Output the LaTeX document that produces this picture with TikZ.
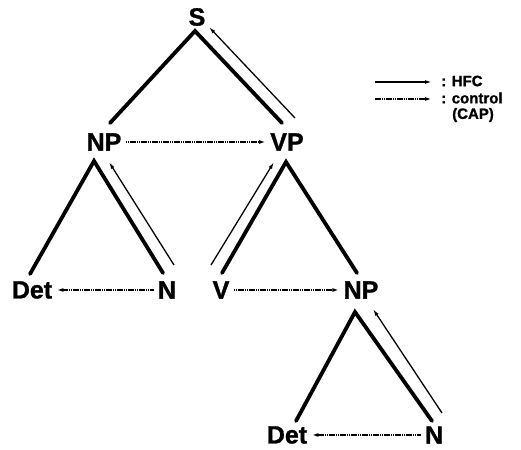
\documentclass[tikz,border=0pt]{standalone}
\usepackage{fontspec}
\setmainfont{Liberation Sans}
\newfontfamily\heavyfont{Liberation Sans Bold}[FakeBold=1.2]
\usetikzlibrary{arrows.meta}
\begin{document}
\begin{tikzpicture}[x=1pt,y=-1pt,
  lbl/.style={font=\heavyfont\fontsize{25}{25}\selectfont, inner sep=0pt},
  leg/.style={font=\heavyfont\fontsize{15}{15}\selectfont, inner sep=0pt, anchor=west},
  tree/.style={line width=3.8pt, line cap=round},
  hfc/.style={line width=1.3pt,-{Latex[length=7pt,width=3.8pt]}},
  ctrl/.style={line width=1.4pt, dash pattern=on 1.6pt off 0.6pt,-{Latex[length=7pt,width=3.8pt]}, shorten <=4pt, shorten >=4pt},
]
\useasboundingbox (0,0) rectangle (521,449);
% labels
\node[lbl] (S)    at (197,17)  {S};
\node[lbl] (NPa)  at (104,142) {NP};
\node[lbl] (VP)   at (287,142) {VP};
\node[lbl] (Deta) at (32,290)  {Det};
\node[lbl] (Na)   at (167,290) {N};
\node[lbl] (V)    at (221,290) {V};
\node[lbl] (NPb)  at (361,290) {NP};
\node[lbl] (Detb) at (287,435) {Det};
\node[lbl] (Nb)   at (434,435) {N};
% attachment points
\coordinate (S-b)   at (195,31);
\coordinate (NPa-t) at (110,123);
\coordinate (VP-t)  at (282,123);
\coordinate (NPa-b) at (94,161);
\coordinate (Deta-t) at (30,274);
\coordinate (Na-t)  at (163,273);
\coordinate (VP-b)  at (286,162);
\coordinate (V-t)   at (222,273);
\coordinate (NPb-t) at (357,273);
\coordinate (NPb-b) at (355,312);
\coordinate (Detb-t) at (296,421);
\coordinate (Nb-t)  at (432,421);
% HFC arrow ends
\coordinate (VP-h)  at (295,118);
\coordinate (S-h)   at (209,27);
\coordinate (Na-h)  at (174,265);
\coordinate (NPa-h) at (109,162);
\coordinate (V-h)   at (211,265);
\coordinate (VP-h2) at (274,162);
\coordinate (Nb-h)  at (442,413);
\coordinate (NPb-h) at (373,309);
% tree lines
\draw[tree] (NPa-t) -- (S-b) -- (VP-t);
\draw[tree] (Deta-t) -- (NPa-b) -- (Na-t);
\draw[tree] (V-t) -- (VP-b) -- (NPb-t);
\draw[tree] (Detb-t) -- (NPb-b) -- (Nb-t);
% HFC arrows
\draw[hfc] (VP-h) -- (S-h);
\draw[hfc] (Na-h) -- (NPa-h);
\draw[hfc] (V-h) -- (VP-h2);
\draw[hfc] (Nb-h) -- (NPb-h);
% control arrows
\draw[ctrl] (NPa) -- (VP);
\draw[ctrl] (Na) -- (Deta);
\draw[ctrl] (V) -- (NPb);
\draw[ctrl] (Nb) -- (Detb);
% legend
\node[leg] (L1) at (441,81)  {: HFC};
\node[leg] (L2) at (441,98)  {: control};
\node[leg] (L3) at (452,115) {(CAP)};
\coordinate (l1s) at (375,82);
\coordinate (l2s) at (375,99);
\coordinate (l1e) at (432,82);
\coordinate (l2e) at (432,99);
\draw[hfc]  (l1s) -- (l1e);
\draw[ctrl, shorten <=0pt, shorten >=0pt] (l2s) -- (l2e);
\end{tikzpicture}
\end{document}
